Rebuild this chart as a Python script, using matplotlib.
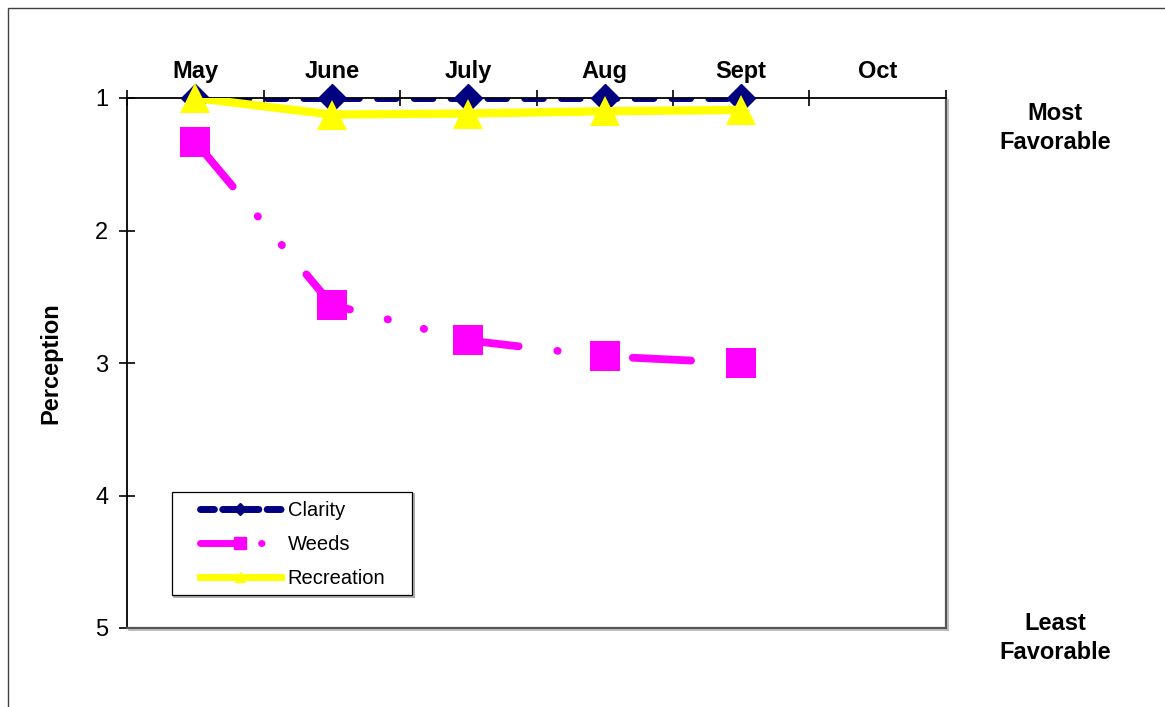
import matplotlib
matplotlib.use("Agg")
import matplotlib.pyplot as plt
from matplotlib.lines import Line2D
from matplotlib.patches import Rectangle

# Monthly lake perception scores (1 = most favorable, 5 = least favorable)
months = ["May", "June", "July", "Aug", "Sept", "Oct"]
clarity = [1.0, 1.0, 1.0, 1.0, 1.0]
weeds = [1.33, 2.56, 2.83, 2.95, 3.0]
recreation = [1.0, 1.125, 1.117, 1.10, 1.09]
series_names = ["Clarity", "Weeds", "Recreation"]
y_ticks = [1, 2, 3, 4, 5]

plt.rcParams["font.family"] = ["Liberation Sans", "DejaVu Sans"]
plt.rcParams["lines.scale_dashes"] = False

NAVY = "#000080"
MAGENTA = "#FF00FF"
YELLOW = "#FFFF00"

W, H = 1165, 707
fig = plt.figure(figsize=(W / 100, H / 100), dpi=100)
fig.patch.set_facecolor("white")


def fx(px):
    return px / W


def fy(py):
    return 1 - py / H


# plot area in pixel bounds
L, R, T, B = 127, 946, 98, 628
ax = fig.add_axes([fx(L), fy(B), fx(R - L), (B - T) / H])
ax.set_facecolor("white")

x = list(range(len(clarity)))
ax.set_xlim(-0.5, len(months) - 0.5)
ax.set_ylim(5, 1)

navy_dash = (1.5, (13.5, 13.0))
weeds_dash = (0, (42.0, 28.0, 0.3, 26.6, 0.3, 27.4))

# Clarity
ax.plot(x, clarity, color=NAVY, lw=5.0, linestyle=navy_dash,
        dash_capstyle="round", zorder=2, clip_on=True)
ax.plot(x, clarity, ls="none", marker="D", ms=14.5, mfc=NAVY, mec=NAVY,
        zorder=4, clip_on=False)
# Weeds
ax.plot(x, weeds, color=MAGENTA, lw=5.6, linestyle=weeds_dash,
        dash_capstyle="round", zorder=5, clip_on=True)
ax.plot(x, weeds, ls="none", marker="s", ms=21, mfc=MAGENTA, mec=MAGENTA,
        mew=0, zorder=6, clip_on=False)
# Recreation
ax.plot(x, recreation, color=YELLOW, lw=6.0, ls="-", zorder=7, clip_on=True)
ax.plot(x, recreation, ls="none", marker="^", ms=21, mfc=YELLOW, mec=YELLOW,
        mew=0, zorder=8, clip_on=False)

# month axis along the top, ticks between categories
ax.set_xticks([i - 0.5 for i in range(len(months) + 1)])
ax.set_xticklabels([])
ax.set_xticks(range(len(months)), minor=True)
ax.set_xticklabels(months, minor=True, fontsize=17, fontweight="bold")
ax.tick_params(axis="x", which="major", direction="inout", length=11, width=1.2,
               top=True, bottom=False, labeltop=False, labelbottom=False,
               color="black")
ax.tick_params(axis="x", which="minor", length=0, top=True, bottom=False,
               labeltop=True, labelbottom=False, pad=11)

ax.set_yticks(y_ticks)
ax.set_yticklabels([str(v) for v in y_ticks], fontsize=17)
ax.tick_params(axis="y", direction="inout", length=11, width=1.2, pad=8,
               color="black")

for side in ("left", "top"):
    ax.spines[side].set_color("black")
    ax.spines[side].set_linewidth(1.3)
for side in ("right", "bottom"):
    ax.spines[side].set_color("#555555")
    ax.spines[side].set_linewidth(1.6)

# soft shadow along right and bottom edges of the plot area
fig.add_artist(Line2D([fx(R + 2), fx(R + 2)], [fy(T + 2), fy(B + 2)],
                      color="#b0b0b0", lw=1.2))
fig.add_artist(Line2D([fx(L + 2), fx(R + 2)], [fy(B + 2), fy(B + 2)],
                      color="#b0b0b0", lw=1.2))

ax.set_ylabel("Perception", fontsize=17, fontweight="bold")
ax.yaxis.set_label_coords((62 - L) / (R - L), 0.5)

fig.text(fx(1055), fy(128), "Most\nFavorable", ha="center", va="center",
         fontsize=17, fontweight="bold", linespacing=1.3)
fig.text(fx(1055), fy(638), "Least\nFavorable", ha="center", va="center",
         fontsize=17, fontweight="bold", linespacing=1.3)

# legend frame with shadow
lx0, ly0, lx1, ly1 = 172, 492, 412, 595
fig.add_artist(Line2D([fx(lx1 + 2), fx(lx1 + 2)], [fy(ly0 + 2), fy(ly1 + 2)],
                      color="#a0a0a0", lw=1.2, zorder=9))
fig.add_artist(Line2D([fx(lx0 + 2), fx(lx1 + 2)], [fy(ly1 + 2), fy(ly1 + 2)],
                      color="#a0a0a0", lw=1.2, zorder=9))
fig.add_artist(Rectangle((fx(lx0), fy(ly1)), fx(lx1 - lx0), (ly1 - ly0) / H,
                         facecolor="white", edgecolor="black", lw=0.9,
                         zorder=9))

handles = [
    Line2D([], [], color=NAVY, lw=5.0, linestyle=(0, (10.0, 6.0)),
           dash_capstyle="round", marker="D", ms=6, mfc=NAVY, mec=NAVY),
    Line2D([], [], color=MAGENTA, lw=5.0, linestyle=(0, (26.0, 18.0, 0.3, 30.0)),
           dash_capstyle="round", marker="s", ms=9, mfc=MAGENTA, mec=MAGENTA),
    Line2D([], [], color=YELLOW, lw=5.0, marker="^", ms=7, mfc=YELLOW,
           mec=YELLOW),
]
leg = fig.legend(handles, series_names, loc="upper left",
                 bbox_to_anchor=(fx(200), fy(501)), frameon=False,
                 fontsize=14.5, handlelength=4.0, handletextpad=0.35,
                 labelspacing=0.75, borderpad=0, borderaxespad=0,
                 numpoints=1)
leg.set_zorder(10)

# outer border of the chart
fig.add_artist(Rectangle((fx(8), -0.1), 1.2, fy(8) + 0.1, facecolor="none",
                         edgecolor="#404040", lw=1.0, zorder=0))

fig.savefig("out.png", dpi=100)
